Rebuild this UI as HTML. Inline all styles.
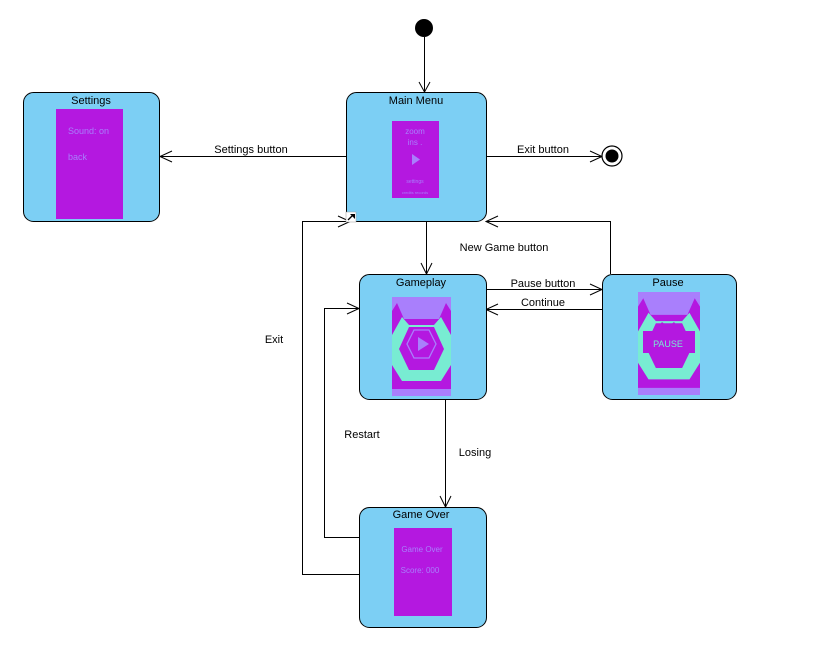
<!DOCTYPE html>
<html><head><meta charset="utf-8"><style>
html,body{margin:0;padding:0;background:#fff;}
svg{display:block;font-family:"Liberation Sans",sans-serif;}
</style></head><body>
<svg width="839" height="663" viewBox="0 0 839 663" xmlns="http://www.w3.org/2000/svg">
<defs>
<symbol id="game" viewBox="0 0 59 99" preserveAspectRatio="none">
<rect width="59" height="99" fill="#a97ffc"/>
<polygon points="0,14 5,6 12,22 47,22 54,6 59,14 59,92 0,92" fill="#b418e0"/>
<polygon points="10,20 17,28 42,28 49,20 59,38 59,68 49,84 10,84 0,68 0,38" fill="#78ecd2"/>
<polygon points="17,30 42,30 52,52 42,73 17,73 7,52" fill="#b418e0"/>
<polygon points="0,72 10,86 49,86 59,72 59,92 0,92" fill="#b418e0"/>
</symbol>
</defs>
<g stroke="#000" stroke-width="1" fill="none">
<!-- start -->
<line x1="424.5" y1="37" x2="424.5" y2="92"/>
<polyline points="419,82 424.5,92 430,82"/>
<!-- settings -->
<line x1="346" y1="156.5" x2="160" y2="156.5"/>
<polyline points="172,151 160,156.5 172,162"/>
<!-- exit -->
<line x1="486" y1="156.5" x2="602" y2="156.5"/>
<polyline points="590,151 602,156.5 590,162"/>
<!-- new game -->
<line x1="426.5" y1="222" x2="426.5" y2="274"/>
<polyline points="421,263 426.5,274 432,263"/>
<!-- pause -> main -->
<polyline points="610.5,274 610.5,221.5 486,221.5"/>
<polyline points="498,216 486,221.5 498,227"/>
<!-- pause button -->
<line x1="486" y1="289.5" x2="602" y2="289.5"/>
<polyline points="590,284 602,289.5 590,295"/>
<!-- continue -->
<line x1="602" y1="309.5" x2="486" y2="309.5"/>
<polyline points="498,304 486,309.5 498,315"/>
<!-- losing -->
<line x1="445.5" y1="399" x2="445.5" y2="507"/>
<polyline points="440,496 445.5,507 451,496"/>
<!-- restart -->
<polyline points="359,537.5 324.5,537.5 324.5,308.5 359,308.5"/>
<polyline points="347,303 359,308.5 347,314"/>
<!-- exit to main -->
<polyline points="359,574.5 302.5,574.5 302.5,221.5 350,221.5"/>
<polyline points="338,216 350,221.5 338,227"/>
</g>
<circle cx="424" cy="28" r="9" fill="#000"/>
<circle cx="612" cy="156" r="10" fill="#fff" stroke="#000" stroke-width="1.2"/>
<circle cx="612" cy="156" r="6.5" fill="#000"/>

<g stroke="#000" stroke-width="1" fill="#7ccff4">
<rect x="23.5" y="92.5" width="136" height="129" rx="10"/>
<rect x="346.5" y="92.5" width="140" height="129" rx="10"/>
<rect x="359.5" y="274.5" width="127" height="125" rx="10"/>
<rect x="602.5" y="274.5" width="134" height="125" rx="10"/>
<rect x="359.5" y="507.5" width="127" height="120" rx="10"/>
</g>
<g font-size="11" fill="#000" text-anchor="middle">
<text x="91" y="104">Settings</text>
<text x="416" y="104">Main Menu</text>
<text x="421" y="286">Gameplay</text>
<text x="668" y="286">Pause</text>
<text x="421" y="518">Game Over</text>
<text x="251" y="153">Settings button</text>
<text x="543" y="153">Exit button</text>
<text x="504" y="251">New Game button</text>
<text x="543" y="287">Pause button</text>
<text x="543" y="306">Continue</text>
<text x="475" y="456">Losing</text>
<text x="362" y="438">Restart</text>
<text x="274" y="343">Exit</text>
</g>
<!-- settings image -->
<rect x="56" y="109" width="67" height="110" fill="#b418e0"/>
<g font-size="9" fill="#a97ffc">
<text x="68" y="134">Sound: on</text>
<text x="68" y="160">back</text>
</g>
<!-- main menu image -->
<rect x="392" y="121" width="47" height="77" fill="#b418e0"/>
<g font-size="8" fill="#a97ffc" text-anchor="middle">
<text x="415" y="134">zoom</text>
<text x="415" y="145">ins .</text>
<text x="415" y="183" font-size="5">settings</text>
<text x="415" y="194" font-size="4">credits records</text>
</g>
<polygon points="412,154 412,165 420,159.5" fill="#a97ffc"/>
<!-- gameplay image -->
<use href="#game" x="392" y="297" width="59" height="99"/>
<polygon points="414,330 429,330 436,344 429,358 414,358 407,344" fill="none" stroke="#a97ffc" stroke-width="1.3"/>
<polygon points="418,337 418,351 429,344" fill="#a97ffc"/>
<!-- pause image -->
<use href="#game" x="638" y="292" width="62" height="103"/>
<polygon points="643,331 655,331 662,322 668,327 674,322 681,331 695,331 695,353 688,353 682,362 654,362 650,353 643,353" fill="#b418e0"/>
<text x="668" y="347" font-size="9" fill="#78ecd2" text-anchor="middle">PAUSE</text>
<!-- game over image -->
<rect x="394" y="528" width="58" height="88" fill="#b418e0"/>
<g font-size="8" fill="#a97ffc" text-anchor="middle">
<text x="422" y="552">Game Over</text>
<text x="420" y="573">Score: 000</text>
</g>
<!-- link icon -->
<rect x="346" y="212" width="10" height="10" fill="#fff" stroke="#999" stroke-width="0.5"/>
<line x1="348" y1="220" x2="353" y2="215" stroke="#000" stroke-width="1.3"/>
<polygon points="350,214 355,214 355,219" fill="#000"/>
</svg>
</body></html>
